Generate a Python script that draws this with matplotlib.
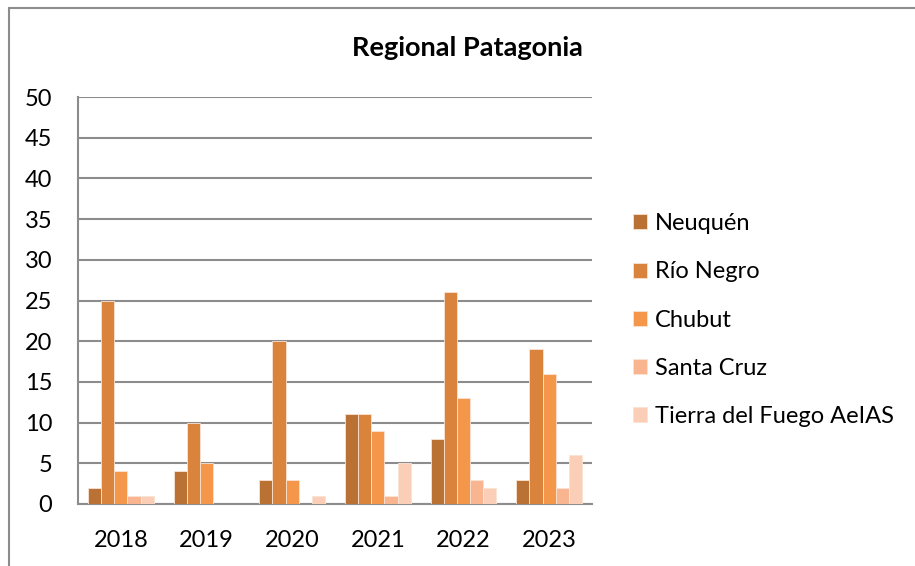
import numpy as np
import matplotlib.pyplot as plt
from matplotlib.patches import Rectangle

years = ["2018", "2019", "2020", "2021", "2022", "2023"]
provinces = ["Neuquén", "Río Negro", "Chubut", "Santa Cruz", "Tierra del Fuego AeIAS"]
neuquen = [2, 4, 3, 11, 8, 3]
rio_negro = [25, 10, 20, 11, 26, 19]
chubut = [4, 5, 3, 9, 13, 16]
santa_cruz = [1, 0, 0, 1, 3, 2]
tierra_del_fuego = [1, 0, 1, 5, 2, 6]
series = [neuquen, rio_negro, chubut, santa_cruz, tierra_del_fuego]
colors = ["#b97233", "#da833c", "#f5974a", "#f8b590", "#fbceb8"]

plt.rcParams["font.family"] = ["Lato", "DejaVu Sans"]

fig = plt.figure(figsize=(9.15, 5.66), dpi=100)
ax = fig.add_axes([78 / 915, 1 - 504 / 566, 514 / 915, 407 / 566])

# outer chart border
fig.patches.append(Rectangle((9 / 915, -0.1), 1.2, 1 - 8 / 566 + 0.1,
                             transform=fig.transFigure, fill=False,
                             edgecolor="#8c8c8c", linewidth=1.5))

x = np.arange(len(years))
w = 0.154
for i, (vals, name, c) in enumerate(zip(series, provinces, colors)):
    ax.bar(x + (i - 2) * w, vals, w, color=c, edgecolor="#fbe3d3",
           linewidth=0.6, label=name, zorder=3)

ax.set_xlim(-0.5, len(years) - 0.5)
ax.set_ylim(0, 50)
ax.set_yticks(range(0, 51, 5))
ax.set_xticks(x)
ax.set_xticklabels(years)
ax.tick_params(axis="both", length=0, labelsize=17)
ax.tick_params(axis="y", pad=18.5)
ax.tick_params(axis="x", pad=18.5)
ax.yaxis.grid(True, color="#8c8c8c", linewidth=1.5, zorder=0)
for s in ["top", "right"]:
    ax.spines[s].set_visible(False)
for s in ["left", "bottom"]:
    ax.spines[s].set_color("#8c8c8c")
    ax.spines[s].set_linewidth(1.5)

fig.text(467 / 915, 1 - 48 / 566, "Regional Patagonia", ha="center",
         va="center", fontsize=19.5, fontweight="bold")

ax.legend(loc="center left", bbox_to_anchor=(1.038, 0.452), frameon=False,
          fontsize=17, handlelength=0.6, handleheight=0.6,
          handletextpad=0.35, labelspacing=1.15)

fig.savefig("out.png", dpi=100)
